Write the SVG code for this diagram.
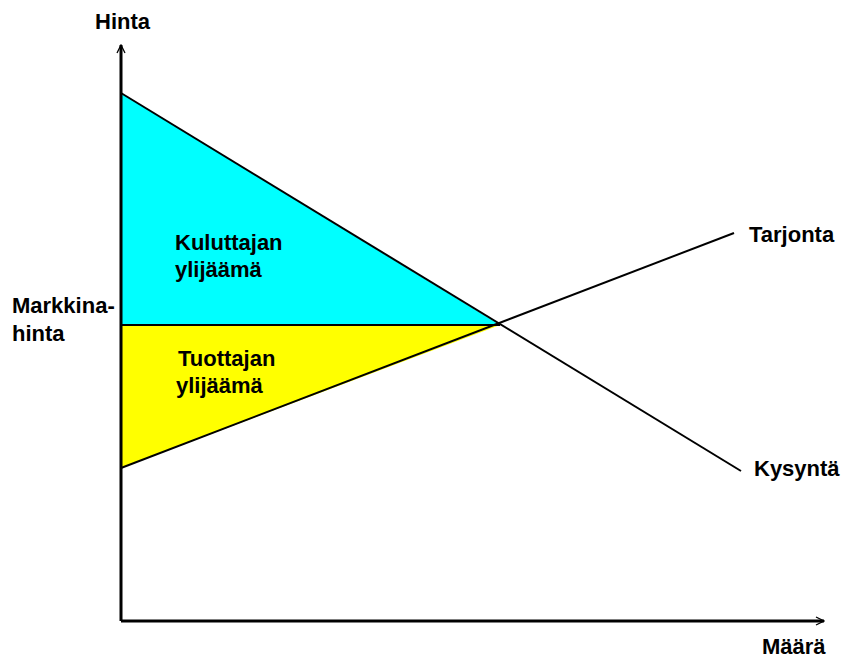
<svg xmlns="http://www.w3.org/2000/svg" width="845" height="659" viewBox="0 0 845 659">
  <style>
    .lbl { font-family: "Liberation Sans", Arial, sans-serif; font-weight: bold; font-size: 22px; fill: #000; }
    .axis { stroke: #000; stroke-width: 3; fill: none; }
    .curve { stroke: #000; stroke-width: 2; fill: none; }
  </style>
  <defs>
    <marker id="arrow" viewBox="0 0 10 10" refX="9" refY="5" markerWidth="10" markerHeight="10" markerUnits="userSpaceOnUse" orient="auto">
      <path d="M1,1 L9,5 L1,9" fill="none" stroke="#000" stroke-width="1.3"/>
    </marker>
  </defs>
  <rect width="845" height="659" fill="#fff"/>

  <g id="consumer-surplus">
    <polygon points="121,93 121,325 500,325" fill="#00ffff"/>
    <text class="lbl" x="175" y="250">Kuluttajan</text>
    <text class="lbl" x="175" y="277">ylijäämä</text>
  </g>
  <g id="producer-surplus">
    <polygon points="121,325 121,468 500,325" fill="#ffff00"/>
    <text class="lbl" x="178" y="366">Tuottajan</text>
    <text class="lbl" x="176" y="393">ylijäämä</text>
  </g>

  <g id="connectors">
    <line class="curve" x1="121" y1="325" x2="500" y2="325"/>
    <line class="curve" x1="121" y1="93" x2="741" y2="471"/>
    <line class="curve" x1="121" y1="468" x2="734" y2="233"/>
    <line class="axis" x1="121" y1="621" x2="121" y2="45" marker-end="url(#arrow)"/>
    <line class="axis" x1="121" y1="621" x2="824" y2="621" marker-end="url(#arrow)"/>
  </g>

  <g id="axis-labels">
    <text class="lbl" x="95" y="29">Hinta</text>
    <text class="lbl" x="762" y="654">Määrä</text>
    <text class="lbl" x="12" y="313">Markkina-</text>
    <text class="lbl" x="12" y="341">hinta</text>
  </g>
  <g id="supply-label">
    <text class="lbl" x="749" y="242">Tarjonta</text>
  </g>
  <g id="demand-label">
    <text class="lbl" x="754" y="476">Kysyntä</text>
  </g>
</svg>
